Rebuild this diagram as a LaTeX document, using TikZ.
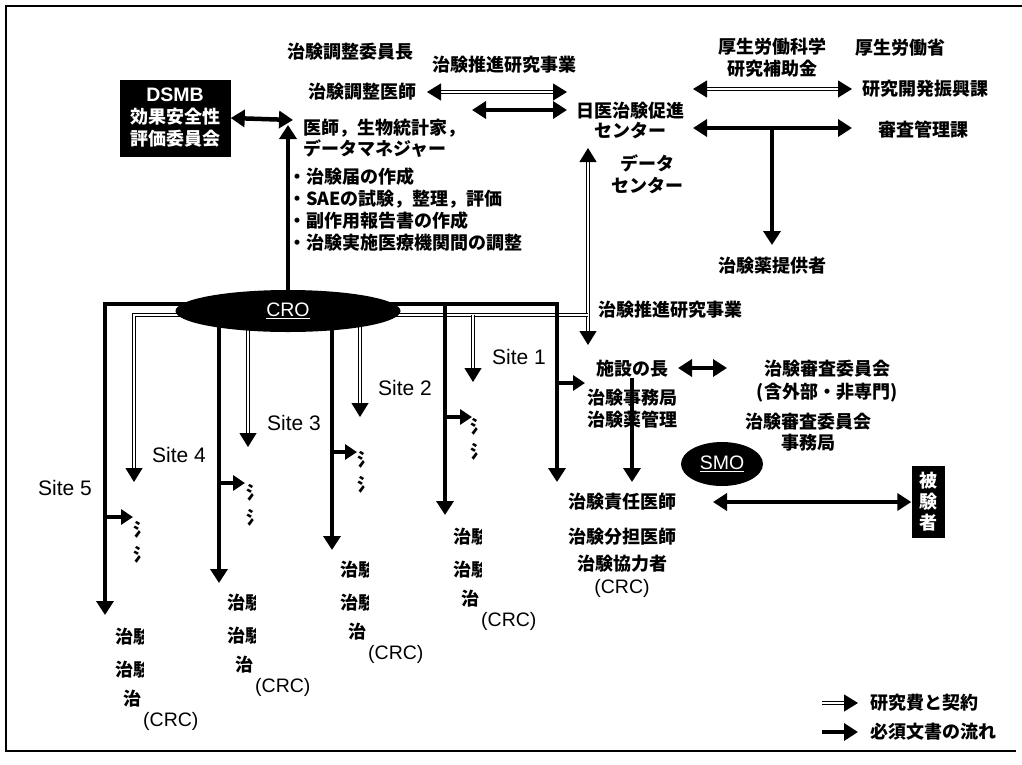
\documentclass[tikz,border=0pt]{standalone}
\usepackage{fontspec}
\setmainfont{Noto Sans CJK JP}
\newfontfamily\latinfont{Liberation Sans}
\usetikzlibrary{arrows.meta, positioning, shapes.geometric}
\pgfdeclarelayer{back}
\pgfsetlayers{back,main}

\begin{document}
\begin{tikzpicture}[x=1pt, y=-1pt,
    every node/.style={font=\bfseries\fontsize{18}{22}\selectfont, inner sep=0pt},
    latin/.style={font=\latinfont\mdseries\fontsize{19.5}{23}\selectfont},
    sitelabel/.style={font=\latinfont\mdseries\fontsize{21}{24}\selectfont, anchor=west},
    blackbox/.style={fill=black, text=white, align=center},
    oval/.style={ellipse, fill=black, text=white, latin},
    docflow/.style={line width=4.5pt, -{Triangle[length=14pt,width=17pt]}},
    docshort/.style={line width=4.5pt, -{Triangle[length=12pt,width=15pt]}},
    docboth/.style={line width=4.5pt, {Triangle[length=14pt,width=17pt]}-{Triangle[length=14pt,width=17pt]}},
    fundflow/.style={line width=1.2pt, double=white, double distance=2.2pt, -{Triangle[length=14pt,width=17pt]}},
    fundline/.style={line width=1.2pt, double=white, double distance=2.2pt},
    fundboth/.style={line width=1.2pt, double=white, double distance=2.2pt, {Triangle[length=14pt,width=17pt]}-{Triangle[length=14pt,width=17pt]}}]
    \useasboundingbox (0,0) rectangle (1022,764);

    % 枠
    \draw[line width=1.5pt] (1022,6) -- (6,6) -- (6,751) -- (1016,751);

    % 上段
    \node (chair) at (350,52) {治験調整委員長};
    \node (coordoc) at (362,92) {治験調整医師};
    \node (project1) at (504,65) {治験推進研究事業};
    \node[blackbox, minimum width=111pt, minimum height=77pt] (dsmb) at (175,118)
        {{\latinfont\bfseries\fontsize{19.5}{23}\selectfont DSMB}\\効果安全性\\評価委員会};
    \node[anchor=west, align=left] (staff) at (303,138) {医師，生物統計家，\\[-1pt]データマネジャー};
    \node[anchor=west, align=left] (tasks) at (288,210)
        {・治験届の作成\\・SAEの試験，整理，評価\\・副作用報告書の作成\\・治験実施医療機関間の調整};
    \node[align=center] (jmacct) at (630,120) {日医治験促進\\[-2pt]センター};
    \node[align=center] (grant) at (772,58) {厚生労働科学\\研究補助金};
    \node (mhlw) at (900,48) {厚生労働省};
    \node (rdpromo) at (925,89) {研究開発振興課};
    \node (review) at (923,130) {審査管理課};
    \node (supplier) at (772,266) {治験薬提供者};
    \node[align=center] (datactr) at (647,174) {データ\\センター};
    \node (project2) at (670,310) {治験推進研究事業};

    % 楕円
    \node[oval, minimum width=225pt, minimum height=42pt] (cro) at (288,311) {\underline{CRO}};
    \node[oval, minimum width=82pt, minimum height=44pt] (smo) at (722,464) {\underline{SMO}};

    % 施設側
    \node (head) at (632,369) {施設の長};
    \node[align=center] (office) at (632,409) {治験事務局\\治験薬管理};
    \node (irb) at (827,369) {治験審査委員会};
    \node (irbnote) at (827,393) {(含外部・非専門)};
    \node[align=center] (irboffice) at (808,432) {治験審査委員会\\[-1pt]事務局};
    \node (pi) at (622,502) {治験責任医師};
    \node (subpi) at (622,537) {治験分担医師};
    \node[align=center] (crc) at (622,576) {治験協力者\\[1pt]{\latinfont\mdseries\fontsize{19.5}{23}\selectfont (CRC)}};
    \node[blackbox, minimum width=33pt, minimum height=72pt] (subject) at (928,502) {被\\[-1pt]験\\[-1pt]者};

    % Site
    \node[sitelabel] (site1) at (492,357) {Site 1};
    \node[sitelabel] (site2) at (378,388) {Site 2};
    \node[sitelabel] (site3) at (267,423) {Site 3};
    \node[sitelabel] (site4) at (152,455) {Site 4};
    \node[sitelabel] (site5) at (38,488) {Site 5};

    \foreach \lx/\ty/\fx/\fy [count=\i] in {115/637/139/530, 227/603/252/493, 340/570/363/460, 453/537/476/427} {
        \begin{scope}
            \clip (\lx-1,\ty-14) rectangle (\lx+28,\ty+48);
            \node[anchor=west] (inv\i-a) at (\lx,\ty) {治験};
            \node[anchor=west] (inv\i-b) at (\lx,\ty+33) {治験};
        \end{scope}
        \node[anchor=west] (inv\i-c) at (\lx+8,\ty+62) {治};
        \node[anchor=west, latin] (inv\i-d) at (\lx+28,\ty+84) {(CRC)};
        \node[anchor=west] (frag\i-a) at (\fx-6,\fy) {氵};
        \node[anchor=west] (frag\i-b) at (\fx-6,\fy+25) {氵};
    }

    % 凡例
    \node[anchor=west] (keyfund) at (870,703) {研究費と契約};
    \node[anchor=west] (keydoc) at (870,732) {必須文書の流れ};

    % 座標
    \coordinate (docbus) at (0,304);
    \coordinate (fundbus) at (0,315);
    \coordinate (s1tip) at (557,482);
    \coordinate (s2tip) at (445,515);
    \coordinate (s3tip) at (332,550);
    \coordinate (s4tip) at (219,583);
    \coordinate (s5tip) at (105,615);
    \coordinate (f1tip) at (473,382);
    \coordinate (f2tip) at (360,417);
    \coordinate (f3tip) at (248,447);
    \coordinate (f5tip) at (134,482);
    \coordinate (b1) at (585,383);
    \coordinate (b2) at (472,417);
    \coordinate (b3) at (357,452);
    \coordinate (b4) at (245,483);
    \coordinate (b5) at (133,517);
    \coordinate (dctop) at (588,148);
    \coordinate (dcbot) at (588,345);
    \coordinate (croTip) at (288,125);
    \coordinate (dsmbTip) at (293,120);
    \coordinate (fundL) at (427,92);
    \coordinate (fundR) at (567,92);
    \coordinate (docL) at (472,110);
    \coordinate (docR) at (567,110);
    \coordinate (grantL) at (693,89);
    \coordinate (grantR) at (852,89);
    \coordinate (reviewL) at (693,128);
    \coordinate (reviewR) at (852,128);
    \coordinate (tee) at (772,128);
    \coordinate (teeTip) at (772,245);
    \coordinate (irbL) at (678,368);
    \coordinate (irbR) at (727,368);
    \coordinate (piTip) at (632,482);
    \coordinate (piR) at (713,502);
    \coordinate (keyA) at (822,703);
    \coordinate (keyB) at (858,703);
    \coordinate (keyC) at (822,732);
    \coordinate (keyD) at (858,732);

    % 研究費と契約
    \begin{pgfonlayer}{back}
        \draw[fundboth] (dctop) -- (dcbot);
        \draw[fundline] (cro.center |- fundbus) -- (dcbot |- fundbus);
        \draw[fundflow] (cro.center |- fundbus) -| (f5tip);
        \draw[fundflow] (f1tip |- fundbus) -- (f1tip);
        \draw[fundflow] (f2tip |- cro.center) -- (f2tip);
        \draw[fundflow] (f3tip |- cro.center) -- (f3tip);
        % 必須文書の流れ
        \draw[docflow] (cro.center) -- (croTip);
        \draw[docflow] (cro.center |- docbus) -| (s5tip);
        \draw[docflow] (cro.center |- docbus) -| (s1tip);
        \draw[docflow] (s2tip |- docbus) -- (s2tip);
        \draw[docflow] (s3tip |- cro.center) -- (s3tip);
        \draw[docflow] (s4tip |- cro.center) -- (s4tip);
    \end{pgfonlayer}
    \draw[docshort] (s1tip |- b1) -- (b1);
    \draw[docshort] (s2tip |- b2) -- (b2);
    \draw[docshort] (s3tip |- b3) -- (b3);
    \draw[docshort] (s4tip |- b4) -- (b4);
    \draw[docshort] (s5tip |- b5) -- (b5);

    \draw[docboth] (dsmb.east) -- (dsmbTip);
    \draw[fundboth] (fundL) -- (fundR);
    \draw[docboth] (docL) -- (docR);
    \draw[fundboth] (grantL) -- (grantR);
    \draw[docboth] (reviewL) -- (reviewR);
    \draw[docflow] (tee) -- (teeTip);
    \draw[docboth] (irbL) -- (irbR);
    \draw[docflow] (head.south) -- (piTip);
    \draw[docboth] (piR) -- (subject.west);

    \draw[fundflow] (keyA) -- (keyB);
    \draw[docflow] (keyC) -- (keyD);
\end{tikzpicture}
\end{document}
